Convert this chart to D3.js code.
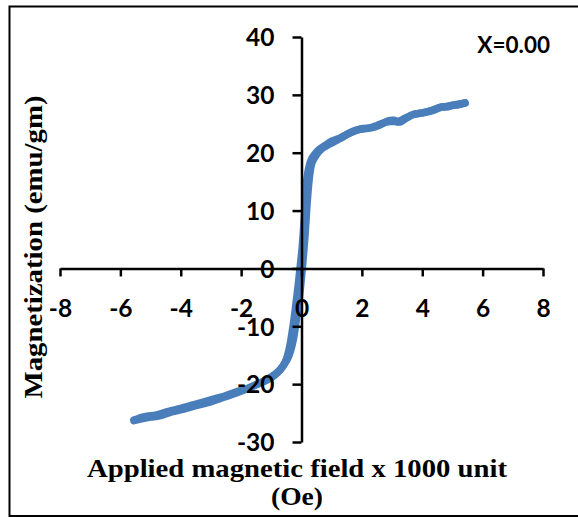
<!DOCTYPE html>
<html>
<head>
<meta charset="utf-8">
<script src="https://cdn.jsdelivr.net/npm/d3@7"></script>
<style>
  body { margin: 0; background: #fff; }
  svg { display: block; }
  .tick text { font-family: Lato, "Liberation Sans", sans-serif; font-weight: bold; font-size: 24.5px; fill: #000; }
  .axis path, .axis line { stroke: #000; stroke-width: 2.5px; }
  .title { font-family: "Liberation Serif", "DejaVu Serif", serif; font-weight: bold; font-size: 26px; fill: #000; }
</style>
</head>
<body>
<svg id="chart"></svg>
<script>
// descending branch (+H -> -H)
const fieldDown = [5.42, 5.1, 4.8, 4.55, 4.3, 4.0, 3.7, 3.45, 3.2, 3.0, 2.8, 2.5, 2.2, 1.9, 1.6, 1.3, 1.0, 0.8, 0.6, 0.45, 0.33, 0.25, 0.18, 0.12, 0.07, 0.02, -0.04, -0.1, -0.17, -0.24, -0.31, -0.38, -0.46, -0.56, -0.7, -0.9, -1.15, -1.45, -1.8, -2.2, -2.7, -3.2, -3.6, -4.0, -4.4, -4.8, -5.2, -5.55];
const magDown = [28.6, 28.3, 28.0, 27.8, 27.3, 26.9, 26.6, 26.0, 25.4, 25.4, 25.3, 24.7, 24.2, 24.0, 23.4, 22.6, 22.0, 21.3, 20.6, 19.8, 18.9, 17.6, 15.5, 11.0, 7.0, 3.5, 0.5, -2.5, -5.5, -8.5, -11.0, -13.2, -15.0, -16.4, -17.5, -18.5, -19.3, -20.0, -20.8, -21.4, -22.3, -23.0, -23.6, -24.2, -24.7, -25.3, -25.6, -26.2];

// ascending branch (-H -> +H)
const fieldUp = [-5.55, -5.3, -5.0, -4.7, -4.3, -3.9, -3.5, -3.1, -2.7, -2.3, -1.95, -1.6, -1.3, -1.05, -0.85, -0.66, -0.54, -0.46, -0.36, -0.28, -0.2, -0.13, -0.06, 0.0, 0.06, 0.12, 0.17, 0.22, 0.28, 0.35, 0.5, 0.7, 0.93, 1.26, 1.55, 1.82, 2.05, 2.31, 2.6, 2.87, 3.05, 3.26, 3.45, 3.7, 3.9, 4.14, 4.4, 4.64, 4.8, 5.03, 5.2, 5.42];
const magUp = [-26.3, -26.0, -25.7, -25.5, -24.8, -24.3, -23.7, -23.2, -22.5, -21.8, -21.1, -20.3, -19.6, -18.9, -18.2, -17.2, -16.3, -15.6, -14.2, -12.5, -10.0, -7.3, -4.5, -1.5, 2.0, 6.0, 10.0, 13.5, 16.5, 18.3, 19.7, 20.8, 21.5, 22.4, 23.3, 23.9, 24.2, 24.3, 24.8, 25.5, 25.6, 25.3, 25.9, 26.6, 26.8, 27.0, 27.4, 27.9, 27.9, 28.2, 28.3, 28.6];

const xTicks = [-8, -6, -4, -2, 0, 2, 4, 6, 8];
const yTicks = [-30, -20, -10, 0, 10, 20, 30, 40];

const width = 578, height = 517;

const svg = d3.select("#chart").attr("width", width).attr("height", height);

// outer frame (right edge falls outside the picture)
svg.append("rect")
  .attr("x", 9.5).attr("y", 6.5)
  .attr("width", 600).attr("height", 509.5)
  .attr("fill", "none").attr("stroke", "#000").attr("stroke-width", 2);

const x = d3.scaleLinear().domain([-8, 8]).range([60, 543]);
const y = d3.scaleLinear().domain([-30, 40]).range([442, 37]);

const line = d3.line()
  .x(d => x(d[0]))
  .y(d => y(d[1]))
  .curve(d3.curveCatmullRom);

const down = fieldDown.map((f, i) => [f, magDown[i]]);
const up = fieldUp.map((f, i) => [f, magUp[i]]);

[down, up].forEach(series => {
  svg.append("path")
    .datum(series)
    .attr("d", line)
    .attr("fill", "none")
    .attr("stroke", "#4a7ebb")
    .attr("stroke-width", 7.5)
    .attr("stroke-linecap", "round")
    .attr("stroke-linejoin", "round");
});

// axes cross at the origin, plain hyphen for negatives
const fmt = d => String(d);
const xAxis = d3.axisBottom(x).tickValues(xTicks).tickFormat(fmt).tickSize(8).tickSizeOuter(0).tickPadding(23);
const yAxis = d3.axisLeft(y).tickValues(yTicks).tickFormat(fmt).tickSize(9).tickSizeOuter(0).tickPadding(18);

svg.append("g")
  .attr("class", "axis x-axis")
  .attr("transform", `translate(0,${y(0)})`)
  .call(xAxis);

svg.append("g")
  .attr("class", "axis y-axis")
  .attr("transform", `translate(${x(0)},0)`)
  .call(yAxis);

svg.selectAll(".y-axis .tick text").attr("dy", "0.36em");

// titles
svg.append("text")
  .attr("class", "title")
  .attr("x", 297).attr("y", 477)
  .attr("text-anchor", "middle")
  .attr("textLength", 420).attr("lengthAdjust", "spacingAndGlyphs")
  .text("Applied magnetic field x 1000 unit");

svg.append("text")
  .attr("class", "title")
  .attr("x", 297).attr("y", 505)
  .attr("text-anchor", "middle")
  .attr("textLength", 52).attr("lengthAdjust", "spacingAndGlyphs")
  .text("(Oe)");

svg.append("text")
  .attr("class", "title")
  .attr("transform", "translate(42,247) rotate(-90)")
  .attr("text-anchor", "middle")
  .attr("textLength", 303).attr("lengthAdjust", "spacingAndGlyphs")
  .text("Magnetization (emu/gm)");

svg.append("text")
  .attr("x", 550).attr("y", 53)
  .attr("text-anchor", "end")
  .style("font-family", "Lato, 'Liberation Sans', sans-serif")
  .style("font-weight", "bold")
  .style("font-size", "22.5px")
  .text("X=0.00");
</script>
</body>
</html>
